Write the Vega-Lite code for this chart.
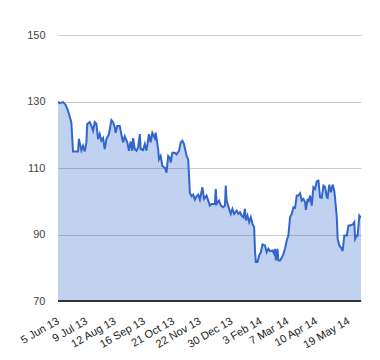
{
  "$schema": "https://vega.github.io/schema/vega-lite/v6.json",
  "autosize": {"type": "none"},
  "width": 303,
  "height": 266,
  "padding": {"left": 58, "top": 35, "right": 19, "bottom": 59},
  "background": "white",
  "config": {
    "view": {"stroke": null},
    "font": "Liberation Sans"
  },
  "data": {
    "values": [
      {"date": "2013-06-05", "value": 130},
      {"date": "2013-06-07", "value": 129.5},
      {"date": "2013-06-11", "value": 129.8},
      {"date": "2013-06-14", "value": 129},
      {"date": "2013-06-17", "value": 127.3},
      {"date": "2013-06-19", "value": 125.5},
      {"date": "2013-06-21", "value": 123.7},
      {"date": "2013-06-23", "value": 115},
      {"date": "2013-06-29", "value": 115},
      {"date": "2013-06-30", "value": 118.8},
      {"date": "2013-07-03", "value": 115.3},
      {"date": "2013-07-05", "value": 116.7},
      {"date": "2013-07-07", "value": 115},
      {"date": "2013-07-09", "value": 117.7},
      {"date": "2013-07-10", "value": 123.2},
      {"date": "2013-07-13", "value": 123.8},
      {"date": "2013-07-15", "value": 122.7},
      {"date": "2013-07-17", "value": 121.2},
      {"date": "2013-07-19", "value": 123.8},
      {"date": "2013-07-21", "value": 123.3},
      {"date": "2013-07-23", "value": 118.7},
      {"date": "2013-07-25", "value": 120.2},
      {"date": "2013-07-27", "value": 118.2},
      {"date": "2013-07-29", "value": 119},
      {"date": "2013-07-31", "value": 115.7},
      {"date": "2013-08-02", "value": 118.7},
      {"date": "2013-08-05", "value": 120.2},
      {"date": "2013-08-08", "value": 124.4},
      {"date": "2013-08-10", "value": 123.8},
      {"date": "2013-08-12", "value": 122.2},
      {"date": "2013-08-13", "value": 120.6},
      {"date": "2013-08-15", "value": 122.6},
      {"date": "2013-08-18", "value": 122.6},
      {"date": "2013-08-20", "value": 120},
      {"date": "2013-08-22", "value": 117.7},
      {"date": "2013-08-24", "value": 119.5},
      {"date": "2013-08-27", "value": 117.7},
      {"date": "2013-08-29", "value": 115.2},
      {"date": "2013-08-31", "value": 118},
      {"date": "2013-09-02", "value": 115.2},
      {"date": "2013-09-03", "value": 119},
      {"date": "2013-09-05", "value": 115.7},
      {"date": "2013-09-07", "value": 115.2},
      {"date": "2013-09-09", "value": 116.2},
      {"date": "2013-09-11", "value": 120.2},
      {"date": "2013-09-12", "value": 115.7},
      {"date": "2013-09-15", "value": 115.4},
      {"date": "2013-09-17", "value": 117.2},
      {"date": "2013-09-19", "value": 115.2},
      {"date": "2013-09-22", "value": 120.2},
      {"date": "2013-09-24", "value": 117.7},
      {"date": "2013-09-26", "value": 120.6},
      {"date": "2013-09-29", "value": 119},
      {"date": "2013-09-30", "value": 120.6},
      {"date": "2013-10-03", "value": 115.7},
      {"date": "2013-10-04", "value": 112.6},
      {"date": "2013-10-06", "value": 113.6},
      {"date": "2013-10-08", "value": 110.6},
      {"date": "2013-10-11", "value": 110.1},
      {"date": "2013-10-13", "value": 108.6},
      {"date": "2013-10-15", "value": 113.6},
      {"date": "2013-10-17", "value": 113.1},
      {"date": "2013-10-18", "value": 111.6},
      {"date": "2013-10-20", "value": 114.6},
      {"date": "2013-10-23", "value": 114.6},
      {"date": "2013-10-25", "value": 114.1},
      {"date": "2013-10-28", "value": 115.2},
      {"date": "2013-10-30", "value": 117.7},
      {"date": "2013-11-01", "value": 118.2},
      {"date": "2013-11-03", "value": 117.2},
      {"date": "2013-11-06", "value": 113.6},
      {"date": "2013-11-08", "value": 112.6},
      {"date": "2013-11-10", "value": 102.5},
      {"date": "2013-11-12", "value": 101.5},
      {"date": "2013-11-14", "value": 102},
      {"date": "2013-11-16", "value": 100.5},
      {"date": "2013-11-18", "value": 101.5},
      {"date": "2013-11-20", "value": 102},
      {"date": "2013-11-22", "value": 100.5},
      {"date": "2013-11-25", "value": 104.2},
      {"date": "2013-11-27", "value": 100.7},
      {"date": "2013-11-30", "value": 101.7},
      {"date": "2013-12-02", "value": 100.2},
      {"date": "2013-12-04", "value": 98.7},
      {"date": "2013-12-06", "value": 99.2},
      {"date": "2013-12-10", "value": 99.2},
      {"date": "2013-12-11", "value": 103.7},
      {"date": "2013-12-12", "value": 99.2},
      {"date": "2013-12-15", "value": 100.2},
      {"date": "2013-12-17", "value": 98.7},
      {"date": "2013-12-20", "value": 98.2},
      {"date": "2013-12-22", "value": 98.7},
      {"date": "2013-12-23", "value": 104.7},
      {"date": "2013-12-24", "value": 100.2},
      {"date": "2013-12-27", "value": 97.7},
      {"date": "2013-12-29", "value": 96.2},
      {"date": "2013-12-31", "value": 97.7},
      {"date": "2014-01-02", "value": 96.2},
      {"date": "2014-01-05", "value": 97.2},
      {"date": "2014-01-07", "value": 96.2},
      {"date": "2014-01-09", "value": 96.7},
      {"date": "2014-01-11", "value": 95.7},
      {"date": "2014-01-13", "value": 95.2},
      {"date": "2014-01-15", "value": 97.7},
      {"date": "2014-01-16", "value": 94.2},
      {"date": "2014-01-18", "value": 95.7},
      {"date": "2014-01-20", "value": 93.7},
      {"date": "2014-01-22", "value": 95.2},
      {"date": "2014-01-24", "value": 93.2},
      {"date": "2014-01-26", "value": 92.2},
      {"date": "2014-01-27", "value": 85.2},
      {"date": "2014-01-28", "value": 81.7},
      {"date": "2014-01-30", "value": 81.7},
      {"date": "2014-02-01", "value": 83.7},
      {"date": "2014-02-03", "value": 84.7},
      {"date": "2014-02-05", "value": 87},
      {"date": "2014-02-08", "value": 86.7},
      {"date": "2014-02-10", "value": 84.7},
      {"date": "2014-02-12", "value": 85.7},
      {"date": "2014-02-14", "value": 85},
      {"date": "2014-02-17", "value": 85.2},
      {"date": "2014-02-19", "value": 84.2},
      {"date": "2014-02-20", "value": 85.7},
      {"date": "2014-02-21", "value": 82.2},
      {"date": "2014-02-23", "value": 85.7},
      {"date": "2014-02-24", "value": 82.2},
      {"date": "2014-02-26", "value": 82.2},
      {"date": "2014-02-28", "value": 83},
      {"date": "2014-03-02", "value": 84.2},
      {"date": "2014-03-04", "value": 85.7},
      {"date": "2014-03-06", "value": 88.2},
      {"date": "2014-03-08", "value": 89.7},
      {"date": "2014-03-10", "value": 95.2},
      {"date": "2014-03-12", "value": 96.2},
      {"date": "2014-03-14", "value": 98.2},
      {"date": "2014-03-16", "value": 98},
      {"date": "2014-03-18", "value": 101.7},
      {"date": "2014-03-20", "value": 101.7},
      {"date": "2014-03-22", "value": 102.4},
      {"date": "2014-03-24", "value": 100.2},
      {"date": "2014-03-26", "value": 100.7},
      {"date": "2014-03-28", "value": 99.7},
      {"date": "2014-03-29", "value": 97.4},
      {"date": "2014-03-31", "value": 100.7},
      {"date": "2014-04-01", "value": 99.7},
      {"date": "2014-04-03", "value": 101.7},
      {"date": "2014-04-05", "value": 98.7},
      {"date": "2014-04-07", "value": 104.2},
      {"date": "2014-04-09", "value": 103.7},
      {"date": "2014-04-11", "value": 106},
      {"date": "2014-04-13", "value": 106.2},
      {"date": "2014-04-15", "value": 101.2},
      {"date": "2014-04-17", "value": 101},
      {"date": "2014-04-19", "value": 104.7},
      {"date": "2014-04-21", "value": 104.2},
      {"date": "2014-04-23", "value": 101.2},
      {"date": "2014-04-24", "value": 101},
      {"date": "2014-04-26", "value": 105},
      {"date": "2014-04-28", "value": 102.7},
      {"date": "2014-04-30", "value": 105},
      {"date": "2014-05-02", "value": 103.2},
      {"date": "2014-05-03", "value": 100.7},
      {"date": "2014-05-05", "value": 95.2},
      {"date": "2014-05-06", "value": 88.7},
      {"date": "2014-05-08", "value": 86.7},
      {"date": "2014-05-11", "value": 85.7},
      {"date": "2014-05-12", "value": 85},
      {"date": "2014-05-14", "value": 89.7},
      {"date": "2014-05-17", "value": 89.7},
      {"date": "2014-05-19", "value": 92.7},
      {"date": "2014-05-21", "value": 92.7},
      {"date": "2014-05-24", "value": 93},
      {"date": "2014-05-26", "value": 93.7},
      {"date": "2014-05-27", "value": 88.7},
      {"date": "2014-05-29", "value": 89.7},
      {"date": "2014-05-30", "value": 89.7},
      {"date": "2014-06-01", "value": 95.7},
      {"date": "2014-06-03", "value": 95}
    ]
  },
  "layer": [
    {
      "encoding": {
        "x": {
          "field": "date",
          "type": "temporal",
          "title": null,
          "scale": {"type": "utc", "nice": false},
          "axis": {
            "values": [
              {"year": 2013, "month": "jun", "date": 5, "utc": true},
              {"year": 2013, "month": "jul", "date": 9, "utc": true},
              {"year": 2013, "month": "aug", "date": 12, "utc": true},
              {"year": 2013, "month": "sep", "date": 16, "utc": true},
              {"year": 2013, "month": "oct", "date": 21, "utc": true},
              {"year": 2013, "month": "nov", "date": 22, "utc": true},
              {"year": 2013, "month": "dec", "date": 30, "utc": true},
              {"year": 2014, "month": "feb", "date": 3, "utc": true},
              {"year": 2014, "month": "mar", "date": 7, "utc": true},
              {"year": 2014, "month": "apr", "date": 10, "utc": true},
              {"year": 2014, "month": "may", "date": 19, "utc": true}
            ],
            "format": "%-d %b %y",
            "labelAngle": -30,
            "labelAlign": "right",
            "labelBaseline": "middle",
            "labelPadding": 19,
            "labelFontSize": 11,
            "labelColor": "#222222",
            "labelOverlap": false,
            "labelBound": false,
            "labelFlush": false,
            "ticks": false,
            "grid": false,
            "domain": false
          }
        },
        "y": {
          "field": "value",
          "type": "quantitative",
          "title": null,
          "scale": {"domain": [70, 150], "nice": false, "zero": false},
          "axis": {
            "values": [70, 90, 110, 130, 150],
            "labelFontSize": 11,
            "labelColor": "#444444",
            "labelPadding": 13,
            "ticks": false,
            "domain": false,
            "grid": true,
            "gridColor": "#cccccc",
            "gridWidth": 1
          }
        }
      },
      "layer": [
        {"mark": {"type": "area", "color": "#3366cc", "opacity": 0.3, "clip": true}},
        {"mark": {"type": "line", "color": "#3366cc", "strokeWidth": 2, "clip": true}}
      ]
    },
    {
      "mark": {"type": "rule", "color": "#333333", "strokeWidth": 1},
      "encoding": {
        "y": {
          "datum": 70,
          "type": "quantitative",
          "title": null,
          "scale": {"domain": [70, 150], "nice": false, "zero": false},
          "axis": {
            "values": [70, 90, 110, 130, 150],
            "labelFontSize": 11,
            "labelColor": "#444444",
            "labelPadding": 13,
            "ticks": false,
            "domain": false,
            "grid": true,
            "gridColor": "#cccccc",
            "gridWidth": 1
          }
        }
      }
    }
  ]
}
